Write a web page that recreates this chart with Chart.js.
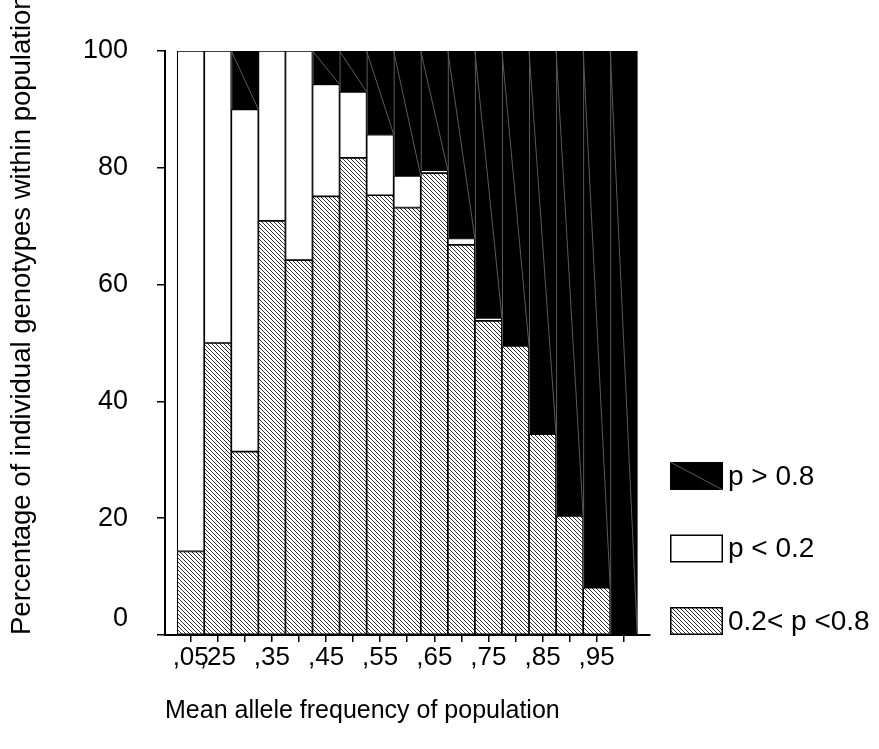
<!DOCTYPE html>
<html>
<head>
<meta charset="utf-8">
<script src="https://cdn.jsdelivr.net/npm/chart.js@4.4.1/dist/chart.umd.min.js"></script>
<style>
    html, body { margin: 0; padding: 0; background: #fff; }
    #wrap { width: 879px; height: 749px; }
</style>
</head>
<body>
<div id="wrap"><canvas id="allele-chart"></canvas></div>
<script>
// one bar per class of mean allele frequency, labels only on every other bar
const xLabels = [',05', ',25', '', ',35', '', ',45', '', ',55', '', ',65', '', ',75', '', ',85', '', ',95', ''];

// percentage of genotypes per class, bottom to top of each stack
const midValues  = [14.3, 50.0, 31.4, 70.9, 64.2, 75.1, 81.7, 75.3, 73.2, 79.1, 66.8, 53.8, 49.5, 34.4, 20.4, 8.1, 0];
const lowValues  = [85.7, 50.0, 58.6, 29.1, 35.8, 19.2, 11.3, 10.4, 5.4, 0.5, 1.1, 0.5, 0, 0, 0, 0, 0];
const highValues = [0, 0, 10.0, 0, 0, 5.7, 7.0, 14.3, 21.4, 20.4, 32.1, 45.7, 50.5, 65.6, 79.6, 91.9, 100];

const seriesLabels = ['0.2< p <0.8', 'p < 0.2', 'p > 0.8'];
const yTitle = 'Percentage of individual genotypes within population';
const xTitle = 'Mean allele frequency of population';

const FONT = '"Liberation Sans", Arial, sans-serif';

function makeHatch() {
    const c = document.createElement('canvas');
    c.width = 4;
    c.height = 4;
    const g = c.getContext('2d');
    g.fillStyle = '#fff';
    g.fillRect(0, 0, 4, 4);
    g.fillStyle = '#333';
    for (let i = 0; i < 4; i++) {
        g.fillRect(i, i, 1, 1);
    }
    return g.createPattern(c, 'repeat');
}

function toPoints(values) {
    return values.map((v, i) => ({ x: i, y: v }));
}

const hatch = makeHatch();

// thin grey strokes the original shows on every black block
const blackStrokes = {
    id: 'black-strokes',
    afterDatasetsDraw(chart) {
        const ctx = chart.ctx;
        const meta = chart.getDatasetMeta(2);
        ctx.save();
        ctx.strokeStyle = '#5a5a5a';
        ctx.lineWidth = 1;
        meta.data.forEach(bar => {
            const { x, y, base, width } = bar.getProps(['x', 'y', 'base', 'width'], true);
            if (base - y < 1) {
                return;
            }
            const l = x - width / 2;
            const r = x + width / 2;
            ctx.beginPath();
            ctx.moveTo(l, y);
            ctx.lineTo(r, base);
            ctx.moveTo(l + 0.5, y);
            ctx.lineTo(l + 0.5, base);
            ctx.stroke();
        });
        ctx.restore();
    }
};

const sideLegend = {
    id: 'side-legend',
    afterDraw(chart) {
        const ctx = chart.ctx;
        const bottom = chart.chartArea.bottom;
        const boxX = 670, boxW = 53, boxH = 28, step = 72.5;
        ctx.save();
        ctx.font = '28px ' + FONT;
        ctx.textBaseline = 'middle';
        [2, 1, 0].forEach((di, row) => {
            const ds = chart.data.datasets[di];
            const top = bottom - boxH - (2 - row) * step;
            ctx.fillStyle = ds.backgroundColor;
            ctx.fillRect(boxX, top, boxW, boxH);
            if (di === 2) {
                ctx.strokeStyle = '#5a5a5a';
                ctx.lineWidth = 1;
                ctx.beginPath();
                ctx.moveTo(boxX, top);
                ctx.lineTo(boxX + boxW, top + boxH);
                ctx.stroke();
            } else {
                ctx.strokeStyle = '#000';
                ctx.lineWidth = 1.5;
                ctx.strokeRect(boxX + 0.75, top + 0.75, boxW - 1.5, boxH - 1.5);
            }
            ctx.fillStyle = '#000';
            ctx.fillText(ds.label, boxX + boxW + 5, top + boxH / 2 + 1);
        });
        ctx.restore();
    }
};

Chart.defaults.font.family = FONT;
Chart.defaults.color = '#000';

new Chart(document.getElementById('allele-chart'), {
    type: 'bar',
    data: {
        datasets: [
            {
                label: seriesLabels[0],
                data: toPoints(midValues),
                backgroundColor: hatch,
                borderColor: '#000',
                borderWidth: 1.2,
                borderSkipped: false
            },
            {
                label: seriesLabels[1],
                data: toPoints(lowValues),
                backgroundColor: '#fff',
                borderColor: '#000',
                borderWidth: 1.2,
                borderSkipped: false
            },
            {
                label: seriesLabels[2],
                data: toPoints(highValues),
                backgroundColor: '#000',
                borderWidth: 0
            }
        ]
    },
    options: {
        responsive: true,
        maintainAspectRatio: false,
        animation: false,
        barPercentage: 1,
        categoryPercentage: 1,
        layout: {
            padding: { top: 51, right: 229, bottom: 0, left: 0 }
        },
        scales: {
            x: {
                type: 'linear',
                stacked: true,
                offset: false,
                min: -0.95,
                max: 16.97,
                afterFit: s => { s.height = 114; },
                border: { color: '#000', width: 2 },
                grid: { offset: false, drawOnChartArea: false, tickLength: 7, color: '#000', lineWidth: 1.5 },
                ticks: {
                    stepSize: 1,
                    includeBounds: false,
                    autoSkip: false,
                    maxRotation: 0,
                    padding: 0,
                    font: { size: 26 },
                    callback: v => xLabels[v] ?? ''
                },
                title: {
                    display: true,
                    text: xTitle,
                    align: 'start',
                    font: { size: 25 },
                    padding: { top: 0, bottom: 23 }
                }
            },
            y: {
                stacked: true,
                min: 0,
                max: 100,
                afterFit: s => { s.width = 165; },
                border: { color: '#000', width: 2 },
                grid: { drawOnChartArea: false, tickLength: 8, color: '#000', lineWidth: 1.5 },
                ticks: {
                    stepSize: 20,
                    padding: 29,
                    font: { size: 27 },
                    callback: v => v === 0 ? ['0', ''] : String(v)
                },
                title: {
                    display: true,
                    text: yTitle,
                    align: 'start',
                    font: { size: 27.5 },
                    padding: { top: 6, bottom: 0 }
                }
            }
        },
        plugins: {
            legend: { display: false },
            tooltip: { enabled: false }
        }
    },
    plugins: [blackStrokes, sideLegend]
});
</script>
</body>
</html>
